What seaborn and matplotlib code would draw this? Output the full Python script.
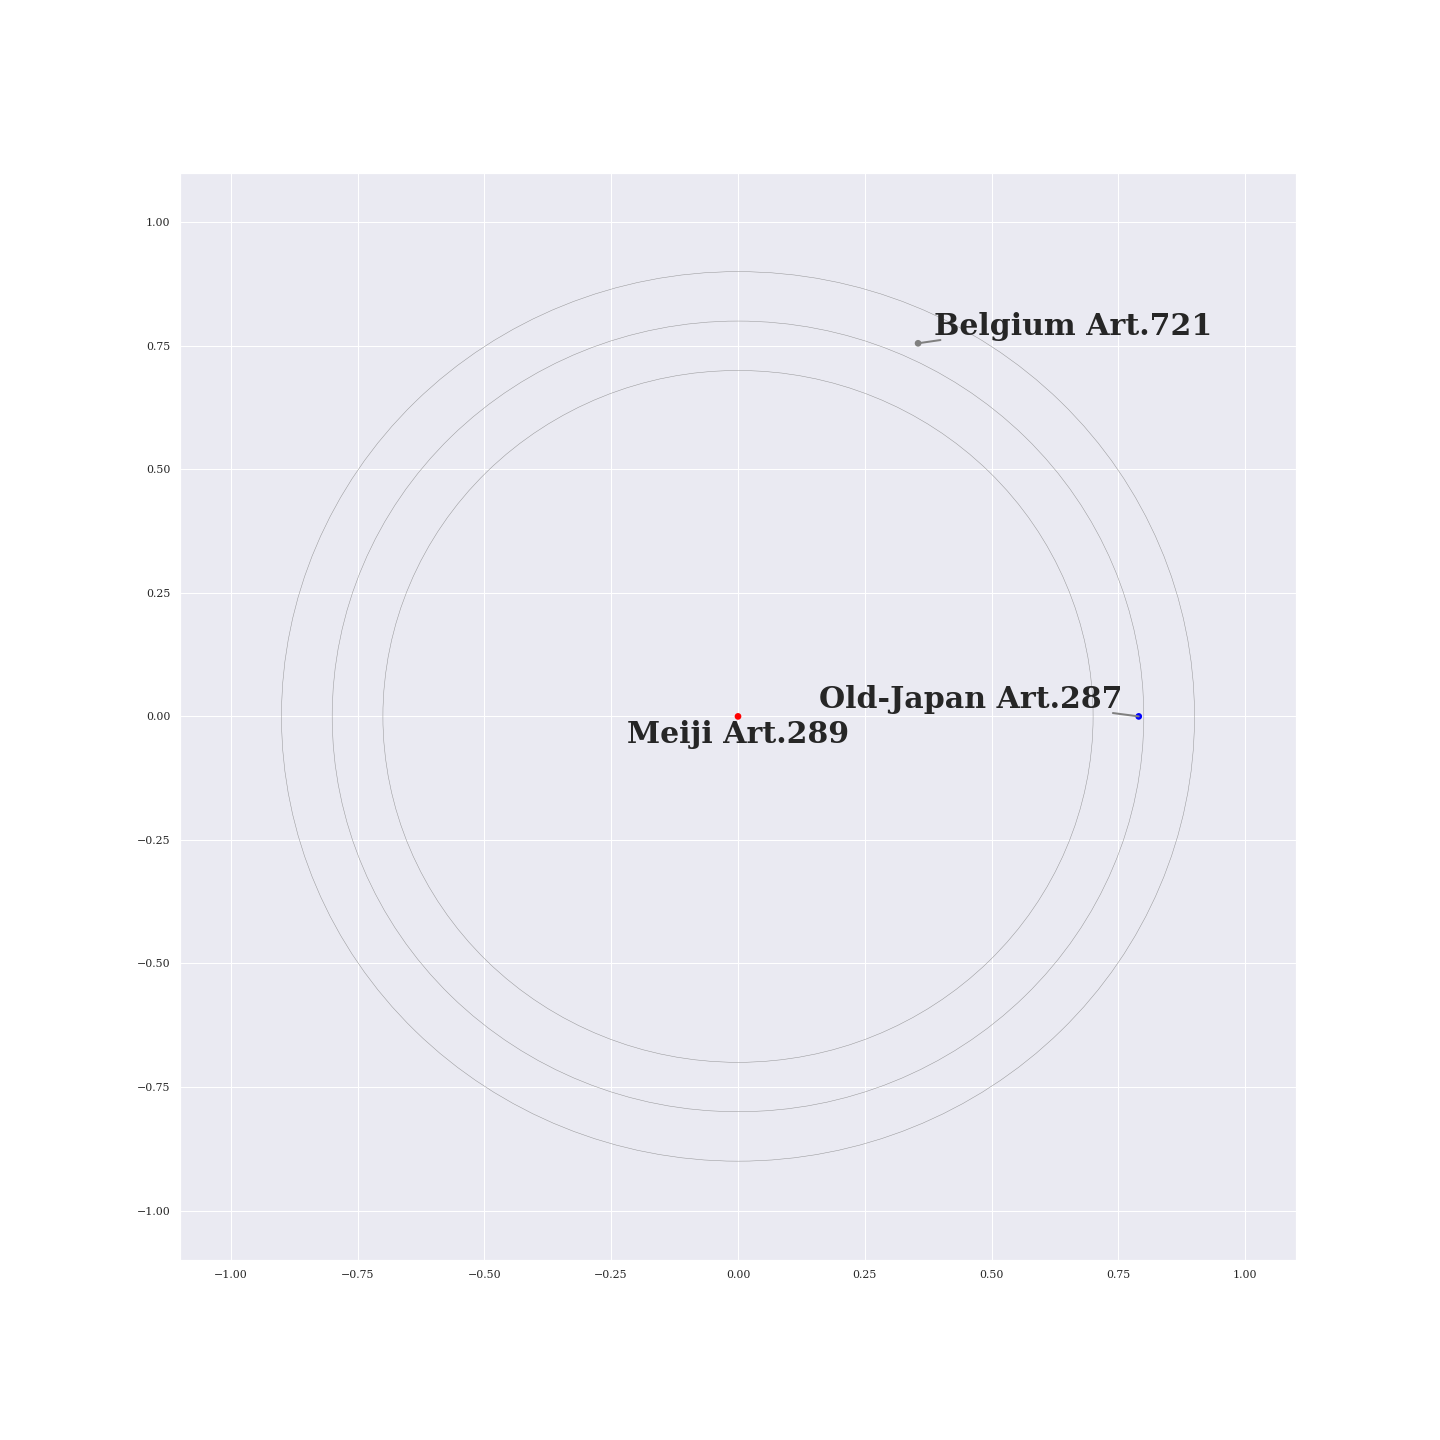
import numpy as np
import pandas as pd
import matplotlib
matplotlib.use("Agg")
import matplotlib.pyplot as plt
import seaborn as sns

# points and labels
labels = ["Meiji Art.289", "Old-Japan Art.287", "Belgium Art.721"]
xs = [0.0, 0.79, 0.355]
ys = [0.0, 0.0, 0.755]
point_colors = ["red", "blue", "grey"]

# label placement (data coords)
label_x = [0.0, 0.757, 0.387]
label_y = [-0.053, 0.016, 0.772]
label_ha = ["center", "right", "left"]
label_relpos = [(0.5, 0.5), (0.97, 0.05), (0.022, 0.03)]

# reference circles
radii = [0.7, 0.8, 0.9]

sns.set_theme(style="darkgrid", context="notebook")
plt.rcParams["font.family"] = ["DejaVu Serif"]

df = pd.DataFrame({"x": xs, "y": ys, "label": labels})

fig, ax = plt.subplots(figsize=(20, 20), dpi=72)
fig.subplots_adjust(left=0.125, right=0.9, bottom=0.125, top=0.88)

for r in radii:
    ax.add_patch(plt.Circle((0, 0), r, fill=False, color="grey", lw=0.5, alpha=0.8))

sns.scatterplot(data=df, x="x", y="y", hue="label", palette=point_colors,
                s=45, edgecolor="none", legend=False, ax=ax, zorder=3)

for i, lab in enumerate(labels):
    arrow = dict(arrowstyle="-", color="grey", lw=2, shrinkA=0, shrinkB=0,
                 patchA=None, relpos=label_relpos[i])
    if i == 0:
        arrow = None
    ax.annotate(lab, xy=(xs[i], ys[i]), xytext=(label_x[i], label_y[i]),
                textcoords="data", ha=label_ha[i], va="baseline",
                fontsize=30, fontweight="bold", color="#262626",
                arrowprops=arrow, zorder=4)

ax.set_xlim(-1.1, 1.1)
ax.set_ylim(-1.1, 1.1)
ax.set_xlabel("")
ax.set_ylabel("")

fig.savefig("out.png", dpi=72)
